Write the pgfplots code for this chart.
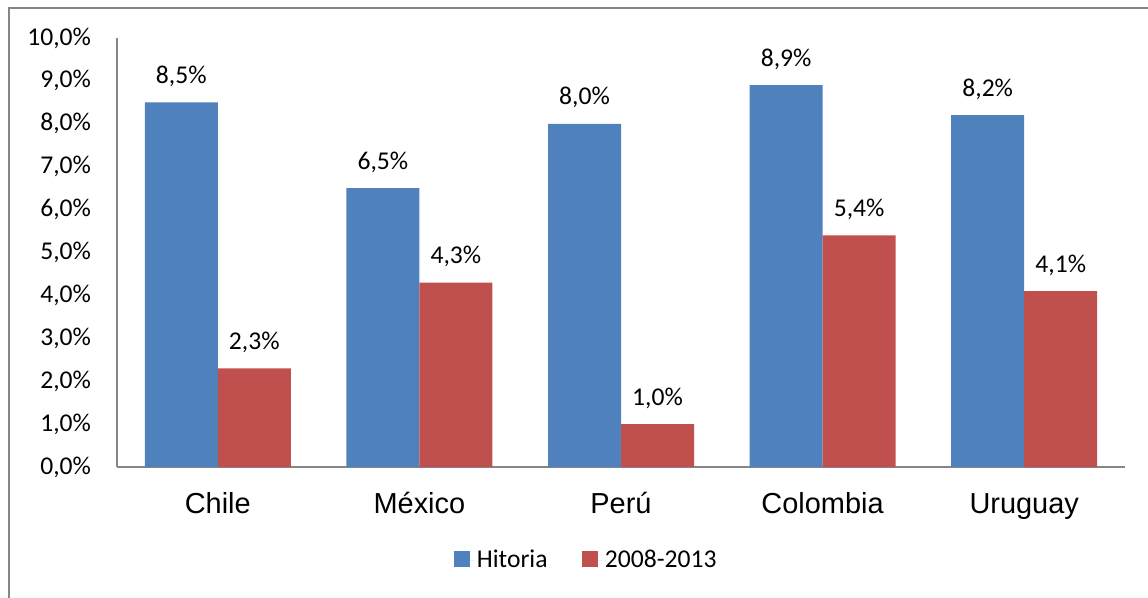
\documentclass[border=0pt]{standalone}
\usepackage{pgfplots}
\pgfplotsset{compat=1.18}
\usepackage{fontspec}
\setmainfont{Carlito}
\newfontfamily\arial{Liberation Sans}
\definecolor{serA}{RGB}{79,129,189}
\definecolor{serB}{RGB}{192,80,77}
\definecolor{axgray}{RGB}{134,134,134}
\begin{document}
\begin{tikzpicture}[x=1pt,y=1pt]
\useasboundingbox (-87.75,-97.5) rectangle (773.25,350.25);
\draw[axgray, line width=1.1pt] (-81,-140) rectangle (783,344.25);
\begin{axis}[
  at={(0,0)}, anchor=south west,
  scale only axis,
  width=756pt, height=321.75pt,
  ybar=0pt, bar width=54.75pt,
  ymin=0, ymax=10,
  xmin=-0.5, xmax=4.5,
  xtick={0,1,2,3,4},
  xticklabels={Chile,México,Perú,Colombia,Uruguay},
  ytick={0,1,2,3,4,5,6,7,8,9,10},
  yticklabels={{0,0\%},{1,0\%},{2,0\%},{3,0\%},{4,0\%},{5,0\%},{6,0\%},{7,0\%},{8,0\%},{9,0\%},{10,0\%}},
  axis x line*=bottom, axis y line*=left,
  axis line style={axgray, line width=0.8pt, -},
  major tick length=0pt,
  tick style={draw=none},
  xticklabel style={font=\arial\fontsize{21.7}{25}\selectfont, anchor=base, yshift=-34.5pt},
  yticklabel style={font=\fontsize{19.2}{22}\selectfont, xshift=-16pt},
  nodes near coords={\pgfmathprintnumber[fixed,fixed zerofill,precision=1,use comma,assume math mode=true]{\pgfplotspointmeta}\%},
  every node near coord/.append style={font=\fontsize{19.2}{22}\selectfont, anchor=base, yshift=14.3pt, black},
  legend style={at={(0.466,-0.2168)}, anchor=center, draw=none, legend columns=2,
    font=\fontsize{19.2}{22}\selectfont,
    /tikz/every even column/.append style={column sep=24pt}},
  legend image code/.code={\fill[#1] (0pt,-5pt) rectangle (12pt,7pt); \path (0pt,0pt) -- (15pt,0pt);},
]
\addplot[fill=serA, draw=none] coordinates {(0,8.5) (1,6.5) (2,8.0) (3,8.9) (4,8.2)};
\addplot[fill=serB, draw=none] coordinates {(0,2.3) (1,4.3) (2,1.0) (3,5.4) (4,4.1)};
\legend{Hitoria,2008-2013}
\end{axis}
\end{tikzpicture}
\end{document}
